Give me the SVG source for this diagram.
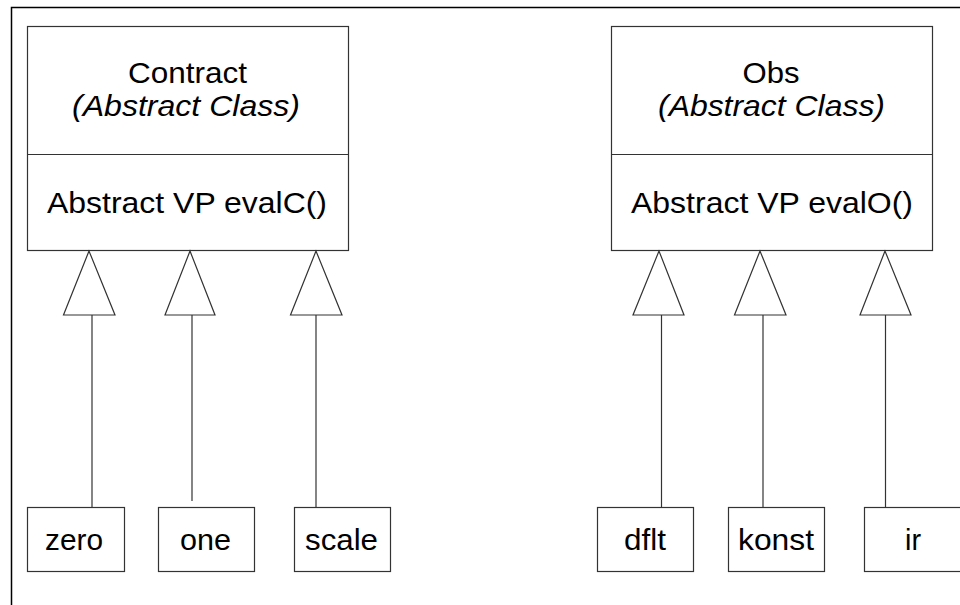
<svg xmlns="http://www.w3.org/2000/svg" width="960" height="605" viewBox="0 0 960 605">
<style>
.frame{fill:none;stroke:#000;stroke-width:1.5}
.box{fill:#fff;stroke:#333;stroke-width:1.2}
.t{font-family:"Liberation Sans",Arial,sans-serif;font-size:30px;fill:#000;text-anchor:middle}
.i{font-style:italic}
.ln{stroke:#333;stroke-width:1.2;fill:none}
.tri{fill:#fff;stroke:#333;stroke-width:1.2}
</style>
<rect width="960" height="605" fill="#fff"/>
<path class="frame" d="M11.5,605 V7.5 H960"/>
<g id="contract">
<rect class="box" x="27.5" y="26.5" width="321" height="224"/>
<line class="ln" x1="27.5" y1="154.5" x2="348.5" y2="154.5"/>
<text class="t" x="187.5" y="83" textLength="119" lengthAdjust="spacingAndGlyphs">Contract</text>
<text class="t i" x="186" y="116" textLength="228" lengthAdjust="spacingAndGlyphs">(Abstract Class)</text>
<text class="t" x="187" y="213" textLength="280" lengthAdjust="spacingAndGlyphs">Abstract VP evalC()</text>
</g>
<g id="obs">
<rect class="box" x="611.5" y="26.5" width="321" height="224"/>
<line class="ln" x1="611.5" y1="154.5" x2="932.5" y2="154.5"/>
<text class="t" x="771" y="83" textLength="57" lengthAdjust="spacingAndGlyphs">Obs</text>
<text class="t i" x="771.5" y="116" textLength="227" lengthAdjust="spacingAndGlyphs">(Abstract Class)</text>
<text class="t" x="772" y="213" textLength="282" lengthAdjust="spacingAndGlyphs">Abstract VP evalO()</text>
</g>
<g id="connectors">
<line class="ln" x1="92" y1="315" x2="92" y2="507"/>
<polygon class="tri" points="89,251 63.5,315 115,315"/>
<line class="ln" x1="192" y1="309" x2="192" y2="501"/>
<polygon class="tri" points="190,251 165,315 215,315"/>
<polygon class="tri" points="316,251 290.5,315 342,315"/>
<line class="ln" x1="316" y1="315" x2="316" y2="507"/>
<polygon class="tri" points="659,251 633,315 684,315"/>
<line class="ln" x1="661.5" y1="315" x2="661.5" y2="507"/>
<polygon class="tri" points="760,251 734.5,315 786,315"/>
<line class="ln" x1="763" y1="315" x2="763" y2="507"/>
<polygon class="tri" points="885,251 860,315 911,315"/>
<line class="ln" x1="885.5" y1="315" x2="885.5" y2="507"/>
</g>
<g id="zero"><rect class="box" x="27.5" y="507.5" width="97" height="64"/><text class="t" x="74" y="550" textLength="58" lengthAdjust="spacingAndGlyphs">zero</text></g>
<g id="one"><rect class="box" x="158.5" y="507.5" width="96" height="64"/><text class="t" x="205.5" y="550" textLength="51" lengthAdjust="spacingAndGlyphs">one</text></g>
<g id="scale"><rect class="box" x="294.5" y="507.5" width="96" height="64"/><text class="t" x="341.5" y="550" textLength="73" lengthAdjust="spacingAndGlyphs">scale</text></g>
<g id="dflt"><rect class="box" x="597.5" y="507.5" width="96" height="64"/><text class="t" x="645" y="550" textLength="42" lengthAdjust="spacingAndGlyphs">dflt</text></g>
<g id="konst"><rect class="box" x="728.5" y="507.5" width="96" height="64"/><text class="t" x="776" y="550" textLength="76" lengthAdjust="spacingAndGlyphs">konst</text></g>
<g id="ir"><rect class="box" x="864.5" y="507.5" width="98" height="64"/><text class="t" x="913" y="550" textLength="16" lengthAdjust="spacingAndGlyphs">ir</text></g>
</svg>
